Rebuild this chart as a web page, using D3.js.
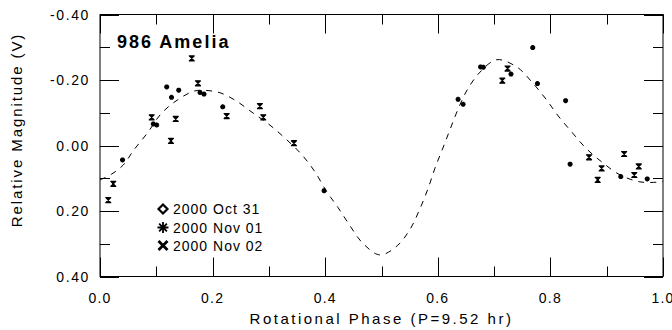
<!DOCTYPE html>
<html><head><meta charset="utf-8">
<script src="https://cdn.jsdelivr.net/npm/d3@7"></script>
<style>
body{margin:0;background:#fff;}
svg{display:block;font-family:"Liberation Sans",Arial,sans-serif;}
</style></head><body>
<svg id="c" width="672" height="330"></svg>
<script>
// ---- data ----
const title = "986 Amelia";
const xTicks = [0, 0.2, 0.4, 0.6, 0.8, 1.0];
const xTickLabels = ["0.0","0.2","0.4","0.6","0.8","1.0"];
const yTicks = [-0.4, -0.2, 0, 0.2, 0.4];
const yTickLabels = ["-0.40","-0.20","0.00","0.20","0.40"];
const legendLabels = ["2000 Oct 31","2000 Nov 01","2000 Nov 02"];
// Oct 31 (diamond) – no separable points visible
const oct31Phase = [];
const oct31Mag = [];
// Nov 01 (asterisk)
const nov01Phase = [0.040,0.0947,0.1007,0.1185,0.127,0.1398,0.1776,0.1847,0.218,0.398,0.636,0.645,0.676,0.681,0.730,0.7686,0.777,0.827,0.835,0.925,0.972];
const nov01Mag   = [0.044,-0.066,-0.0625,-0.179,-0.147,-0.169,-0.162,-0.157,-0.118,0.138,-0.141,-0.126,-0.240,-0.239,-0.218,-0.299,-0.189,-0.137,0.057,0.095,0.102];
// Nov 02 (x)
const nov02Phase = [0.0147,0.0236,0.0918,0.126,0.1345,0.163,0.174,0.225,0.284,0.290,0.3445,0.7146,0.724,0.8686,0.884,0.891,0.931,0.949,0.957];
const nov02Mag   = [0.167,0.117,-0.086,-0.014,-0.081,-0.266,-0.190,-0.090,-0.120,-0.086,-0.007,-0.198,-0.235,0.036,0.105,0.070,0.026,0.090,0.064];
// Fourier fit curve
const fitPhase = [0.0,0.02,0.041,0.06,0.085,0.108,0.135,0.167,0.19,0.215,0.242,0.272,0.302,0.332,0.359,0.382,0.402,0.423,0.444,0.466,0.497,0.528,0.551,0.568,0.583,0.595,0.609,0.622,0.636,0.652,0.675,0.705,0.741,0.767,0.792,0.814,0.838,0.863,0.891,0.924,0.959,0.99,1.0];
const fitMag   = [0.105,0.088,0.06,0.014,-0.04,-0.096,-0.136,-0.166,-0.168,-0.16,-0.136,-0.099,-0.062,-0.017,0.029,0.081,0.139,0.19,0.245,0.297,0.334,0.306,0.255,0.194,0.130,0.069,0.008,-0.05,-0.111,-0.169,-0.224,-0.262,-0.239,-0.194,-0.142,-0.090,-0.041,0.008,0.05,0.09,0.111,0.112,0.11];

// ---- layout ----
const L=100, R=663, T=14.5, B=276.5;
const svg = d3.select("#c");
const x = d3.scaleLinear().domain([0,1]).range([L,R]);
const y = d3.scaleLinear().domain([-0.4,0.4]).range([T,B]);

// frame
svg.append("rect").attr("x",L).attr("y",T).attr("width",R-L).attr("height",B-T)
  .attr("fill","none").attr("stroke","#000").attr("stroke-width",1);

// ticks (inward, all sides)
const ax = svg.append("g").attr("stroke","#000").attr("stroke-width",1);
const xt = d3.range(0,11).map(i=>i/10);
xt.forEach((v,i)=>{
  const len = i%2===0 ? 19 : 10;
  const px = Math.round(x(v))+0.5;
  ax.append("line").attr("x1",px).attr("x2",px).attr("y1",B).attr("y2",B-len);
  ax.append("line").attr("x1",px).attr("x2",px).attr("y1",T).attr("y2",T+len);
});
const yt = d3.range(0,9).map(i=>-0.4+i*0.1);
yt.forEach((v,i)=>{
  const len = i%2===0 ? 19 : 10;
  const py = Math.round(y(v))+0.5;
  ax.append("line").attr("x1",L).attr("x2",L+len).attr("y1",py).attr("y2",py);
  ax.append("line").attr("x1",R).attr("x2",R-len).attr("y1",py).attr("y2",py);
});

// tick labels
svg.append("g").selectAll("text").data(xTicks).join("text")
  .attr("x",d=>x(d)).attr("y",303).attr("text-anchor","middle")
  .attr("font-size",14).attr("letter-spacing",1.2).attr("fill","#000")
  .text((d,i)=>xTickLabels[i]);
svg.append("g").selectAll("text").data(yTicks).join("text")
  .attr("x",90).attr("y",d=>y(d)+5).attr("text-anchor","end")
  .attr("font-size",14).attr("letter-spacing",1.6).attr("fill","#000")
  .text((d,i)=>yTickLabels[i]);

// axis titles
svg.append("text").attr("x",(L+R)/2).attr("y",324).attr("text-anchor","middle")
  .attr("font-size",15).attr("letter-spacing",2.5).text("Rotational Phase (P=9.52 hr)");
svg.append("text").attr("transform","translate(22,130) rotate(-90)").attr("text-anchor","middle")
  .attr("font-size",15).attr("letter-spacing",1.9).text("Relative Magnitude (V)");

// chart title
svg.append("text").attr("x",117).attr("y",48).attr("font-size",18).attr("font-weight","bold")
  .attr("letter-spacing",2).text(title);

// fit curve
const fit = fitPhase.map((p,i)=>[p,fitMag[i]]);
svg.append("path").datum(fit)
  .attr("d",d3.line().x(d=>x(d[0])).y(d=>y(d[1])).curve(d3.curveCatmullRom))
  .attr("fill","none").attr("stroke","#000").attr("stroke-width",1)
  .attr("stroke-dasharray","6,6");

// marker shapes
function asterisk(s){ // 8 arms
  const r=s/2, d=r*0.707; 
  return `M${-r},0L${r},0M0,${-r}L0,${r}M${-d},${-d}L${d},${d}M${-d},${d}L${d},${-d}`;
}
function hourglass(s){
  const r=s/2;
  return `M${-r},${-r}L${r},${-r}L${-r},${r}L${r},${r}Z`;
}
function xmark(s){ const r=s/2; return `M${-r},${-r}L${r},${r}M${r},${-r}L${-r},${r}`; }
function diamond(s){ const r=s/2; return `M0,${-r}L${r},0L0,${r}L${-r},0Z`; }

const pts = svg.append("g");
pts.selectAll(".a").data(nov01Phase.map((p,i)=>[p,nov01Mag[i]])).join("path")
  .attr("transform",d=>`translate(${x(d[0])},${y(d[1])})`)
  .attr("d",asterisk(5)).attr("stroke","#000").attr("stroke-width",1.6).attr("fill","none");
pts.selectAll(".b").data(nov02Phase.map((p,i)=>[p,nov02Mag[i]])).join("path")
  .attr("transform",d=>`translate(${x(d[0])},${y(d[1])})`)
  .attr("d",hourglass(5)).attr("stroke","#000").attr("stroke-width",1.2).attr("fill","#000")
  .attr("stroke-linejoin","round");
pts.selectAll(".c").data(oct31Phase.map((p,i)=>[p,oct31Mag[i]])).join("path")
  .attr("transform",d=>`translate(${x(d[0])},${y(d[1])})`)
  .attr("d",diamond(5)).attr("stroke","#000").attr("stroke-width",1.4).attr("fill","none");

// legend
const lg = svg.append("g");
const rowsY=[209,227.5,245.5];
const shapes=[diamond(9), asterisk(11), xmark(9)];
const widths=[2.2,1.8,2.8];
legendLabels.forEach((t,i)=>{
  lg.append("path").attr("transform",`translate(163,${rowsY[i]})`).attr("d",shapes[i])
    .attr("fill",i===0?"#fff":"none").attr("stroke","#000").attr("stroke-width",widths[i]);
  lg.append("text").attr("x",173).attr("y",rowsY[i]+5).attr("font-size",14).attr("letter-spacing",1)
    .text(t);
});
</script>
</body></html>
